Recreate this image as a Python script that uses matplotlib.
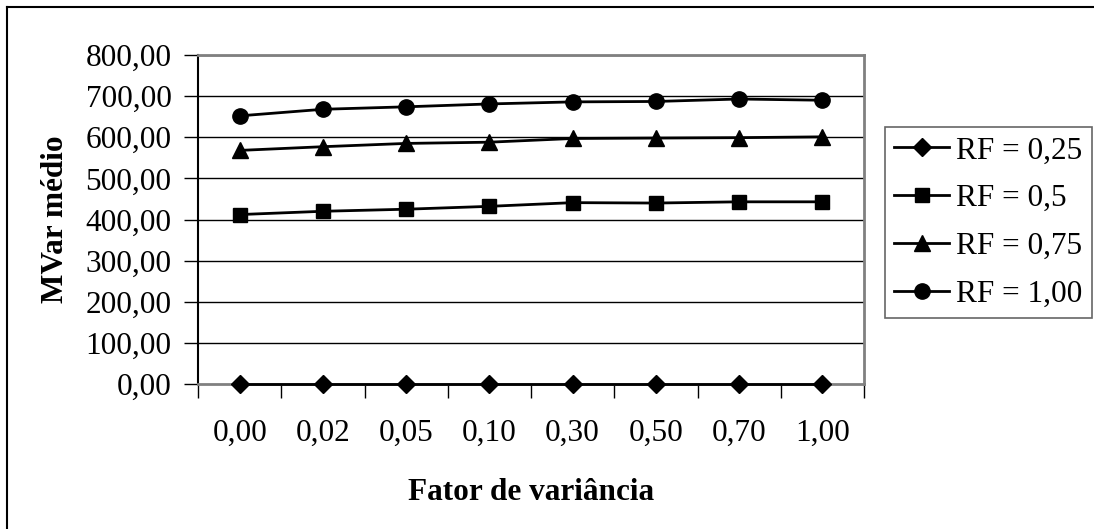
import matplotlib
matplotlib.use("Agg")
import matplotlib.pyplot as plt
from matplotlib.lines import Line2D

categories = ["0,00", "0,02", "0,05", "0,10", "0,30", "0,50", "0,70", "1,00"]
rf_025 = [0, 0, 0, 0, 0, 0, 0, 0]
rf_050 = [412, 420, 425, 432, 441, 440, 443, 443]
rf_075 = [568, 577, 585, 588, 597, 598, 599, 601]
rf_100 = [652, 668, 674, 681, 686, 687, 693, 690]
series_labels = ["RF = 0,25", "RF = 0,5", "RF = 0,75", "RF = 1,00"]
yticks = [0, 100, 200, 300, 400, 500, 600, 700, 800]

plt.rcParams['font.family'] = ['Liberation Serif', 'DejaVu Serif']
FS = 22.5

W, H = 1094, 529
fig = plt.figure(figsize=(W / 100, H / 100), dpi=100)
L, R, T, B = 198, 864, 55, 384
ax = fig.add_axes([L / W, 1 - B / H, (R - L) / W, (B - T) / H])

x = list(range(len(categories)))
markers = ['D', 's', '^', 'o']
msizes = [9.5, 10, 11.5, 11]
for vals, lab, m, ms in zip([rf_025, rf_050, rf_075, rf_100], series_labels, markers, msizes):
    ax.plot(x, vals, color='black', lw=2.0, marker=m, markersize=ms,
            markerfacecolor='black', markeredgecolor='black', label=lab,
            clip_on=False, zorder=3)

ax.set_xlim(-0.5, len(categories) - 0.5)
ax.set_ylim(0, 800)
ax.set_yticks(yticks)
ax.set_yticklabels([f"{v:.2f}".replace('.', ',') for v in yticks], fontsize=FS)
for v in yticks[1:]:
    ax.axhline(v, color='black', lw=1.0, zorder=1)

# x ticks between categories, labels at centers
ax.set_xticks([i - 0.5 for i in range(len(categories) + 1)])
ax.set_xticklabels([])
ax.set_xticks(x, minor=True)
ax.set_xticklabels(categories, minor=True, fontsize=FS)
ax.tick_params(axis='x', which='major', length=10, width=1.0, color='black', direction='out')
ax.tick_params(axis='x', which='minor', length=0, pad=25)
ax.tick_params(axis='y', length=10, width=1.0, color='black', pad=9)

ax.spines['left'].set_color('black')
ax.spines['left'].set_linewidth(1.5)
for s in ['top', 'right', 'bottom']:
    ax.spines[s].set_color('#808080')
    ax.spines[s].set_linewidth(2.0)

ax.set_ylabel("MVar médio", fontsize=FS, fontweight='bold', labelpad=11)
ax.set_xlabel("Fator de variância", fontsize=FS, fontweight='bold', labelpad=22)

leg = ax.legend(loc='upper left', bbox_to_anchor=(885 / W, 1 - 127 / H),
                bbox_transform=fig.transFigure, fontsize=FS, frameon=True,
                fancybox=False, edgecolor='#404040', borderaxespad=0,
                handlelength=1.76, handletextpad=0.22, labelspacing=0.6,
                borderpad=0.3)
leg.get_frame().set_linewidth(1.2)

# outer chart frame (top and left visible)
fig.add_artist(Line2D([7 / W, 1.0], [1 - 7 / H, 1 - 7 / H], transform=fig.transFigure,
                      color='black', lw=1.5))
fig.add_artist(Line2D([7 / W, 7 / W], [1 - 7 / H, 0.0], transform=fig.transFigure,
                      color='black', lw=1.5))

fig.savefig("out.png", dpi=100)
